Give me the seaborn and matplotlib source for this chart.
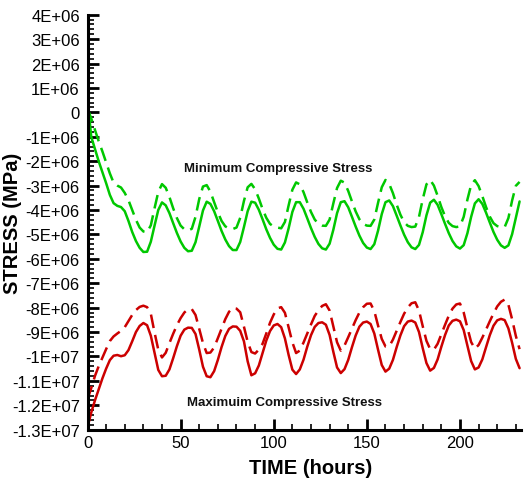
import numpy as np
import pandas as pd
import matplotlib
matplotlib.use("Agg")
import matplotlib.pyplot as plt
from matplotlib.ticker import FixedLocator, MultipleLocator
import seaborn as sns

# Time grid (hours) shared by all four stress histories
hours = np.arange(0, 233, 2)

# Stress histories in units of 1E+06 (scaled to stress when plotted)
min_solid = [
    0.55, -1.0, -1.5, -2.0, -2.45, -2.9, -3.38, -3.72, -3.83, -3.88, -4.05, -4.45, -4.9, -5.27, -5.55, -5.72,
    -5.71, -5.30, -4.64, -4.00, -3.69, -3.81, -4.13, -4.54, -4.94, -5.29, -5.55, -5.69,
    -5.67, -5.32, -4.68, -4.02, -3.66, -3.75, -4.05, -4.45, -4.86, -5.21, -5.48, -5.64,
    -5.64, -5.31, -4.70, -4.05, -3.66, -3.70, -3.99, -4.38, -4.79, -5.14, -5.42, -5.59,
    -5.62, -5.33, -4.75, -4.08, -3.68, -3.68, -3.95, -4.34, -4.74, -5.10, -5.39, -5.57,
    -5.62, -5.38, -4.81, -4.13, -3.68, -3.64, -3.89, -4.28, -4.68, -5.05, -5.35, -5.54,
    -5.60, -5.40, -4.85, -4.17, -3.68, -3.61, -3.84, -4.23, -4.63, -5.01, -5.32, -5.53,
    -5.60, -5.43, -4.91, -4.22, -3.70, -3.58, -3.79, -4.17, -4.57, -4.95, -5.27, -5.49,
    -5.58, -5.44, -4.95, -4.28, -3.73, -3.56, -3.75, -4.11, -4.51, -4.90, -5.22, -5.45,
    -5.55, -5.45, -4.99, -4.32, -3.65,
]
min_dashed = [
    0.15, -0.25, -0.72, -1.18, -1.6, -2.05, -2.5, -2.88, -3.0, -3.08, -3.3, -3.6, -4.0, -4.4, -4.72, -4.88,
    -4.91, -4.63, -3.93, -3.26, -2.94, -3.09, -3.47, -3.93, -4.33, -4.64, -4.79, -4.84,
    -4.77, -4.28, -3.55, -3.04, -2.98, -3.25, -3.68, -4.10, -4.45, -4.67, -4.76, -4.78,
    -4.72, -4.32, -3.63, -3.07, -2.93, -3.15, -3.53, -3.96, -4.32, -4.57, -4.68, -4.72,
    -4.75, -4.49, -3.81, -3.17, -2.87, -2.95, -3.27, -3.69, -4.08, -4.39, -4.57, -4.64,
    -4.65, -4.39, -3.73, -3.10, -2.80, -2.88, -3.22, -3.65, -4.06, -4.38, -4.57, -4.64,
    -4.65, -4.39, -3.71, -3.07, -2.77, -2.93, -3.31, -3.78, -4.19, -4.50, -4.65, -4.70,
    -4.68, -4.28, -3.56, -2.95, -2.77, -3.00, -3.42, -3.88, -4.26, -4.53, -4.66, -4.70,
    -4.67, -4.28, -3.57, -2.97, -2.78, -3.02, -3.43, -3.88, -4.27, -4.54, -4.66, -4.70,
    -4.70, -4.33, -3.61, -3.01, -2.85,
]
max_solid = [
    -12.9, -12.3, -11.8, -11.35, -10.9, -10.5, -10.15, -9.97, -9.94, -9.99, -9.95, -9.74, -9.38, -9.0, -8.75, -8.63,
    -8.72, -9.15, -9.85, -10.55, -10.81, -10.79, -10.53, -10.07, -9.58, -9.15, -8.90, -8.82,
    -8.83, -9.08, -9.72, -10.42, -10.81, -10.85, -10.60, -10.14, -9.61, -9.16, -8.87, -8.77,
    -8.78, -8.95, -9.38, -10.2, -10.77, -10.69, -10.37, -9.86, -9.35, -8.96, -8.73, -8.67,
    -8.80, -9.26, -9.94, -10.54, -10.72, -10.53, -10.13, -9.60, -9.13, -8.79, -8.63, -8.60,
    -8.70, -9.12, -9.81, -10.45, -10.68, -10.52, -10.14, -9.62, -9.14, -8.78, -8.61, -8.57,
    -8.67, -9.06, -9.72, -10.35, -10.62, -10.50, -10.14, -9.62, -9.14, -8.76, -8.57, -8.53,
    -8.61, -9.00, -9.66, -10.27, -10.58, -10.47, -10.12, -9.60, -9.12, -8.73, -8.54, -8.49,
    -8.56, -8.92, -9.56, -10.19, -10.53, -10.45, -10.12, -9.62, -9.13, -8.74, -8.52, -8.46,
    -8.51, -8.85, -9.44, -10.10, -10.48,
]
max_dashed = [
    -11.75, -11.3, -10.8, -10.4, -10.05, -9.7, -9.37, -9.18, -9.06, -8.95, -8.8, -8.55, -8.3, -8.1, -7.97, -7.92,
    -7.98, -8.25, -9.02, -9.72, -10.04, -9.85, -9.45, -9.07, -8.72, -8.43, -8.2, -8.06,
    -8.06, -8.3, -8.87, -9.45, -9.86, -9.84, -9.63, -9.25, -8.86, -8.47, -8.17, -8.01,
    -8.04, -8.19, -8.78, -9.40, -9.82, -9.88, -9.72, -9.48, -9.06, -8.62, -8.28, -8.03,
    -7.98, -8.21, -8.81, -9.42, -9.86, -9.76, -9.43, -9.06, -8.69, -8.34, -8.11, -7.93,
    -7.86, -8.12, -8.77, -9.42, -9.76, -9.55, -9.21, -8.86, -8.51, -8.20, -7.98, -7.84,
    -7.83, -8.14, -8.73, -9.28, -9.59, -9.59, -9.31, -8.95, -8.59, -8.25, -7.99, -7.82,
    -7.78, -8.12, -8.76, -9.36, -9.70, -9.72, -9.48, -9.09, -8.70, -8.33, -8.04, -7.87,
    -7.83, -8.20, -8.83, -9.41, -9.68, -9.53, -9.23, -8.90, -8.56, -8.24, -7.95, -7.76,
    -7.67, -7.88, -8.48, -9.16, -9.7,
]

series_names = ["min_solid", "min_dashed", "max_solid", "max_dashed"]
series_values = [min_solid, min_dashed, max_solid, max_dashed]

y_tick_labels = [
    "-1.3E+07", "-1.2E+07", "-1.1E+07", "-1E+07", "-9E+06", "-8E+06", "-7E+06",
    "-6E+06", "-5E+06", "-4E+06", "-3E+06", "-2E+06", "-1E+06", "0",
    "1E+06", "2E+06", "3E+06", "4E+06",
]
y_tick_values = [float(s) for s in y_tick_labels]
x_tick_values = [0, 50, 100, 150, 200]

GREEN = "#00C800"
RED = "#CC0000"

frames = []
for name, vals in zip(series_names, series_values):
    frames.append(pd.DataFrame({
        "hours": hours,
        "stress": np.asarray(vals, dtype=float) * 1e6,
        "series": name,
    }))
df = pd.concat(frames, ignore_index=True)

sns.set_style("ticks")
plt.rcParams["font.family"] = ["Liberation Sans", "DejaVu Sans"]

fig = plt.figure(figsize=(5.32, 4.81), dpi=100)
ax = fig.add_axes([87.5 / 532, 1 - 430.7 / 481, (520.5 - 87.5) / 532, (430.7 - 15.7) / 481])

sns.lineplot(
    data=df, x="hours", y="stress", hue="series", style="series",
    palette={"min_solid": GREEN, "min_dashed": GREEN, "max_solid": RED, "max_dashed": RED},
    dashes={"min_solid": "", "min_dashed": (5.5, 2.8), "max_solid": "", "max_dashed": (5.5, 2.8)},
    estimator=None, legend=False, linewidth=1.8, ax=ax,
)

ax.set_xlim(0, 232.5)
ax.set_ylim(-13e6, 4e6)

ax.yaxis.set_major_locator(FixedLocator(y_tick_values))
ax.set_yticklabels(y_tick_labels)
ax.yaxis.set_minor_locator(MultipleLocator(2e5))
ax.xaxis.set_major_locator(FixedLocator(x_tick_values))
ax.set_xticklabels([str(v) for v in x_tick_values])
ax.xaxis.set_minor_locator(MultipleLocator(10))

for side in ("top", "right"):
    ax.spines[side].set_visible(False)
for side in ("left", "bottom"):
    ax.spines[side].set_linewidth(2.2)
    ax.spines[side].set_color("black")

ax.tick_params(which="major", direction="in", length=8, width=2, color="black",
               labelsize=12, labelcolor="black")
ax.tick_params(which="minor", direction="in", length=4.5, width=1.2, color="black")
ax.tick_params(axis="y", which="major", pad=5.5)
ax.tick_params(axis="x", which="major", pad=4)

ax.set_xlabel("TIME (hours)", fontsize=14.5, fontweight="bold", color="black")
ax.set_ylabel("STRESS (MPa)", fontsize=14.5, fontweight="bold", color="black")
ax.xaxis.set_label_coords(0.516, -0.068)
ax.yaxis.set_label_coords(-0.151, 0.5)

ax.text(102.3, -2.28e6, "Minimum Compressive Stress", fontsize=9.5, fontweight="bold",
        ha="center", va="center", color="#111111")
ax.text(106, -11.86e6, "Maximuim Compressive Stress", fontsize=9.5, fontweight="bold",
        ha="center", va="center", color="#111111")

fig.savefig("out.png", dpi=100)
